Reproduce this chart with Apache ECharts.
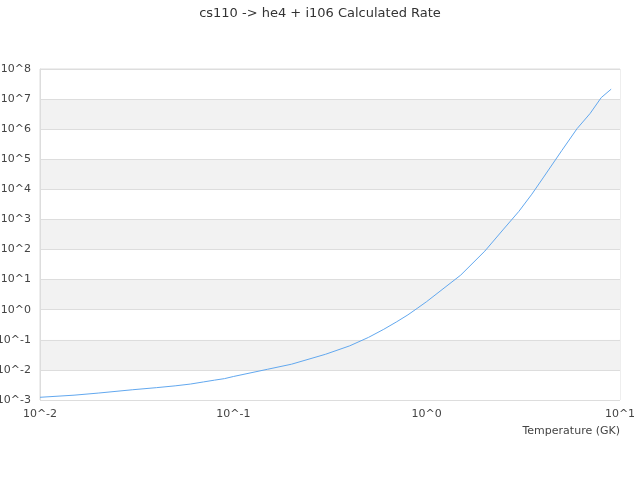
<!DOCTYPE html>
<html>
<head>
<meta charset="utf-8">
<script src="https://cdn.jsdelivr.net/npm/echarts@6/dist/echarts.min.js"></script>
<style>html,body{margin:0;padding:0;background:#fff}#c{width:640px;height:480px}</style>
</head>
<body>
<div id="c"></div>
<script>
const temperatures = [0.01,0.015,0.02,0.03,0.04,0.05,0.06,0.07,0.08,0.09,0.1,0.15,0.2,0.3,0.4,0.5,0.6,0.7,0.8,0.9,1,1.5,2,2.5,3,3.5,4,5,6,7,8,9];
const log10Rates = [-2.91,-2.84,-2.77,-2.66,-2.59,-2.53,-2.47,-2.40,-2.34,-2.29,-2.22,-1.98,-1.81,-1.48,-1.20,-0.92,-0.65,-0.40,-0.17,0.06,0.27,1.15,1.95,2.68,3.27,3.84,4.38,5.29,6.02,6.52,7.05,7.33];
const titleText = "cs110 -> he4 + i106 Calculated Rate";
const xName = "Temperature (GK)";

const data = temperatures.map((t,i)=>[t, Math.pow(10, log10Rates[i])]);
const fmt = v => '10^' + Math.round(Math.log10(v));
const font = 'DejaVu Sans';

const chart = echarts.init(document.getElementById('c'));
chart.setOption({
  animation:false,
  title:{text:titleText,left:'center',top:2,textStyle:{fontFamily:font,fontSize:13,fontWeight:'normal',color:'#333'}},
  grid:{left:40,right:20,top:69,bottom:80,outerBoundsMode:'none',containLabel:false,show:true,borderColor:'#ddd',borderWidth:1},
  xAxis:{type:'log',logBase:10,min:0.01,max:10,interval:1,
    name:xName,nameLocation:'end',nameGap:0,
    nameTextStyle:{fontFamily:font,fontSize:11,color:'#444',align:'right',verticalAlign:'top',padding:[26,0,0,0]},
    axisLine:{show:false},axisTick:{show:false},splitLine:{show:false},
    axisLabel:{formatter:fmt,fontFamily:font,fontSize:11,color:'#444',margin:9}},
  yAxis:{type:'log',logBase:10,min:1e-3,max:1e8,interval:1,
    axisLine:{show:true,lineStyle:{color:'#ddd'}},axisTick:{show:false},
    splitLine:{show:true,lineStyle:{color:'#ddd'}},
    splitArea:{show:true,areaStyle:{color:['#ffffff','#f2f2f2']}},
    axisLabel:{formatter:fmt,fontFamily:font,fontSize:11,color:'#444',margin:9}},
  series:[{type:'line',data:data,showSymbol:false,lineStyle:{width:1,color:'#62a8ef'},itemStyle:{color:'#62a8ef'}}]
});
</script>
</body>
</html>
